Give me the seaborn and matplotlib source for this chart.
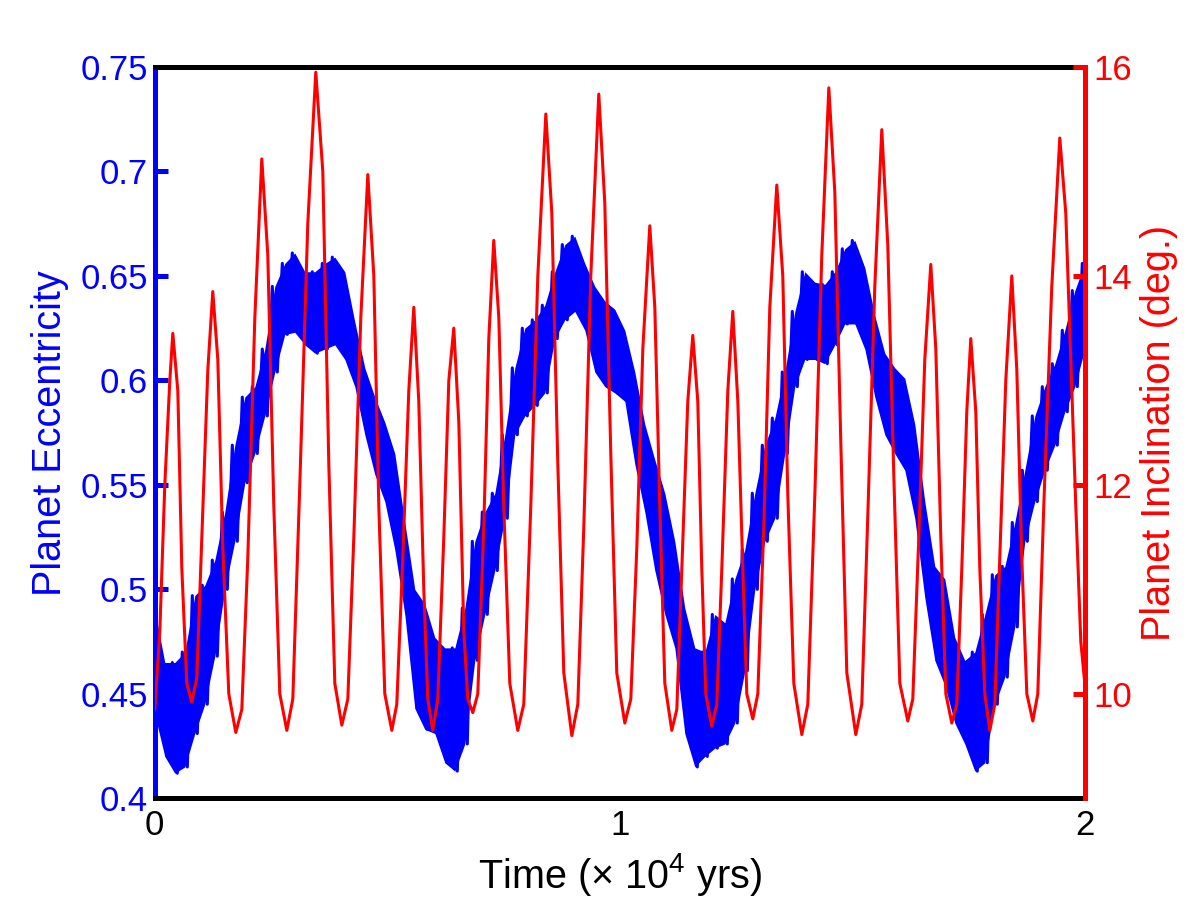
import numpy as np
import matplotlib
matplotlib.use("Agg")
import matplotlib.pyplot as plt
import seaborn as sns

# --- data ---
# eccentricity band (upper / lower edge), sampled evenly over 0..2 (x 10^4 yrs)
ecc_upper = [0.49, 0.465, 0.465, 0.47, 0.497, 0.502, 0.514, 0.537, 0.569, 0.592,
             0.597, 0.615, 0.645, 0.656, 0.661, 0.652, 0.652, 0.656, 0.659, 0.652,
             0.628, 0.606, 0.592, 0.580, 0.565, 0.532, 0.500, 0.493, 0.477, 0.472,
             0.472, 0.491, 0.523, 0.537, 0.546, 0.574, 0.606, 0.625, 0.629, 0.636,
             0.652, 0.665, 0.669, 0.656, 0.645, 0.638, 0.634, 0.624, 0.604, 0.579,
             0.562, 0.546, 0.523, 0.491, 0.472, 0.470, 0.488, 0.484, 0.505, 0.519,
             0.546, 0.569, 0.582, 0.604, 0.633, 0.652, 0.647, 0.646, 0.652, 0.663,
             0.667, 0.654, 0.631, 0.613, 0.606, 0.601, 0.579, 0.542, 0.511, 0.505,
             0.477, 0.466, 0.470, 0.488, 0.507, 0.511, 0.532, 0.557, 0.583, 0.597,
             0.608, 0.624, 0.643, 0.656]
ecc_lower = [0.44, 0.42, 0.412, 0.415, 0.431, 0.445, 0.468, 0.50, 0.523, 0.551,
             0.565, 0.583, 0.604, 0.622, 0.623, 0.617, 0.613, 0.615, 0.617, 0.610,
             0.597, 0.574, 0.555, 0.542, 0.519, 0.488, 0.443, 0.433, 0.431, 0.417,
             0.413, 0.426, 0.466, 0.488, 0.509, 0.534, 0.574, 0.583, 0.588, 0.594,
             0.620, 0.629, 0.633, 0.624, 0.604, 0.597, 0.594, 0.590, 0.560, 0.537,
             0.509, 0.488, 0.472, 0.431, 0.415, 0.420, 0.424, 0.426, 0.436, 0.461,
             0.500, 0.523, 0.534, 0.565, 0.597, 0.610, 0.610, 0.608, 0.617, 0.627,
             0.627, 0.615, 0.592, 0.574, 0.565, 0.557, 0.534, 0.496, 0.466, 0.454,
             0.436, 0.426, 0.413, 0.417, 0.445, 0.458, 0.482, 0.523, 0.542, 0.557,
             0.569, 0.585, 0.597, 0.615]

# inclination (deg.)
inc_time = [0, 0.0108, 0.0215, 0.0323, 0.0387, 0.0495, 0.0581, 0.0688, 0.0796, 0.0903,
            0.1011, 0.1140, 0.1247, 0.1355, 0.1462, 0.1591, 0.1742, 0.1871, 0.2, 0.2151,
            0.2301, 0.2430, 0.2559, 0.2688, 0.2839, 0.2968, 0.3118, 0.3290, 0.3462, 0.3613,
            0.3742, 0.3871, 0.4022, 0.4151, 0.4280, 0.4430, 0.4581, 0.4710, 0.4817, 0.4946,
            0.5097, 0.5204, 0.5333, 0.5462, 0.5570, 0.5677, 0.5785, 0.5871, 0.5978, 0.6086,
            0.6215, 0.6323, 0.6430, 0.6538, 0.6645, 0.6731, 0.6839, 0.6946, 0.7075, 0.7183,
            0.7290, 0.7398, 0.7505, 0.7634, 0.7806, 0.7935, 0.8086, 0.8237, 0.8409, 0.8538,
            0.8667, 0.8796, 0.8968, 0.9097, 0.9226, 0.9376, 0.9548, 0.9677, 0.9806, 0.9935,
            1.0108, 1.0237, 1.0366, 1.0495, 1.0645, 1.0753, 1.0860, 1.0968, 1.1118, 1.1226,
            1.1333, 1.1462, 1.1570, 1.1677, 1.1763, 1.1849, 1.1978, 1.2086, 1.2194, 1.2323,
            1.2430, 1.2538, 1.2645, 1.2731, 1.2860, 1.2968, 1.3097, 1.3226, 1.3376, 1.3505,
            1.3613, 1.3742, 1.3914, 1.4043, 1.4194, 1.4344, 1.4495, 1.4624, 1.4753, 1.4882,
            1.5075, 1.5204, 1.5333, 1.5484, 1.5634, 1.5763, 1.5892, 1.6022, 1.6194, 1.6301,
            1.6430, 1.6559, 1.6688, 1.6796, 1.6903, 1.7011, 1.7140, 1.7247, 1.7355, 1.7462,
            1.7548, 1.7656, 1.7742, 1.7849, 1.7957, 1.8065, 1.8172, 1.8301, 1.8430, 1.8538,
            1.8645, 1.8753, 1.8882, 1.8989, 1.9118, 1.9290, 1.9462, 1.9591, 1.9699, 1.9806,
            1.9914, 2.0]
inc_deg = [9.85, 10.6, 12.0, 13.0,
           13.45, 12.9, 11.2, 10.1, 9.92, 10.15, 11.5, 13.1,
           13.85, 13.2, 11.4, 10.0, 9.63, 9.85, 11.3, 13.6,
           15.12, 14.2, 11.8, 10.0, 9.65, 9.95, 12.0, 14.5,
           15.95, 15.0, 12.2, 10.1, 9.7, 9.95, 11.5, 13.6,
           14.97, 14.0, 11.8, 10.0, 9.65, 9.9, 11.3, 12.9,
           13.7, 12.8, 11.0, 9.95, 9.65, 9.95, 11.5, 13.0,
           13.5, 12.6, 10.6, 9.95, 9.82, 10.0, 11.6, 13.4,
           14.34, 13.6, 11.8, 10.1, 9.65, 9.9, 11.8, 14.0,
           15.55, 14.6, 12.2, 10.2, 9.6, 9.9, 11.6, 14.0,
           15.74, 14.7, 12.3, 10.2, 9.72, 9.95, 11.4, 13.3,
           14.48, 13.7, 11.8, 10.1, 9.65, 9.85, 11.2, 12.8,
           13.43, 12.8, 11.2, 10.0, 9.69, 9.9, 11.2, 12.9,
           13.66, 12.8, 11.2, 10.0, 9.76, 10.0, 11.6, 13.7,
           14.87, 14.0, 11.9, 10.1, 9.61, 9.9, 11.9, 14.2,
           15.8, 14.8, 12.4, 10.2, 9.61, 9.9, 11.7, 13.9,
           15.4, 14.3, 12.1, 10.1, 9.74, 9.95, 11.5, 13.2,
           14.11, 13.3, 11.5, 10.0, 9.72, 9.9, 11.2, 12.7,
           13.4, 12.7, 11.2, 10.0, 9.65, 9.9, 11.3, 13.0,
           14.0, 13.1, 11.3, 10.0, 9.74, 10.0, 11.8, 13.9,
           15.32, 14.6, 13.2, 11.8, 10.5, 10.1]

x_ticks = [0, 1, 2]
ecc_ticks = [0.4, 0.45, 0.5, 0.55, 0.6, 0.65, 0.7, 0.75]
inc_ticks = [10, 12, 14, 16]

ecc_time = np.linspace(0, 2, len(ecc_upper))

# fast oscillation: alternate between the two edges
step = ecc_time[1] - ecc_time[0]
zig_t = np.column_stack([ecc_time - step / 4, ecc_time + step / 4]).ravel()
zig_e = np.column_stack([ecc_upper, ecc_lower]).ravel()
zig_t = np.clip(zig_t, 0, 2)

sns.set_theme(style="white")
plt.rcParams["font.family"] = ["Liberation Sans", "DejaVu Sans"]
plt.rcParams["mathtext.fontset"] = "custom"
plt.rcParams["mathtext.rm"] = "Liberation Sans"
plt.rcParams["mathtext.it"] = "Liberation Sans"

fs_label = 28.5
fs_tick = 25
blue, red = "#0000ff", "#ff0000"
fig = plt.figure(figsize=(12, 9), dpi=100)
ax = fig.add_axes([0.129, 0.113, 0.775, 0.8126])

ax.fill_between(ecc_time, ecc_lower, ecc_upper, color=blue, lw=0)
sns.lineplot(x=zig_t, y=zig_e, ax=ax, color=blue, lw=2.2,
             estimator=None, sort=False)
ax.set_xlim(0, 2)
ax.set_ylim(0.4, 0.75)
ax.set_xticks(x_ticks)
ax.set_xticklabels([str(v) for v in x_ticks])
ax.set_yticks(ecc_ticks)
ax.set_yticklabels(["%g" % v for v in ecc_ticks])
ax.set_xlabel(r"Time (× 10$^4$ yrs)", fontsize=fs_label, color="black", labelpad=6)
ax.set_ylabel("Planet Eccentricity", fontsize=fs_label, color=blue, labelpad=8)

for s in ["top", "bottom"]:
    ax.spines[s].set_color("black")
    ax.spines[s].set_linewidth(3.6)
ax.spines["left"].set_color(blue)
ax.spines["left"].set_linewidth(3.6)
ax.spines["right"].set_visible(False)

ax.tick_params(axis="x", direction="in", length=7, width=3.6, colors="black",
               labelsize=fs_tick, pad=8, top=False)
ax.tick_params(axis="y", direction="in", length=9, width=3.6, colors=blue,
               labelsize=fs_tick, pad=5, left=True, right=True, labelright=False)

ax2 = ax.twinx()
sns.lineplot(x=inc_time, y=inc_deg, ax=ax2, color=red, lw=2.2,
             estimator=None, sort=False)
ax2.set_ylim(9, 16)
ax2.set_yticks(inc_ticks)
ax2.set_yticklabels([str(v) for v in inc_ticks])
ax2.set_ylabel("Planet Inclination (deg.)", fontsize=fs_label, color=red, labelpad=6)
for s in ["top", "bottom", "left"]:
    ax2.spines[s].set_visible(False)
ax2.spines["right"].set_color(red)
ax2.spines["right"].set_linewidth(3.6)
ax2.tick_params(axis="y", direction="in", length=9, width=3.6, colors=red,
                labelsize=fs_tick, pad=6)

fig.savefig("out.png", dpi=100)
